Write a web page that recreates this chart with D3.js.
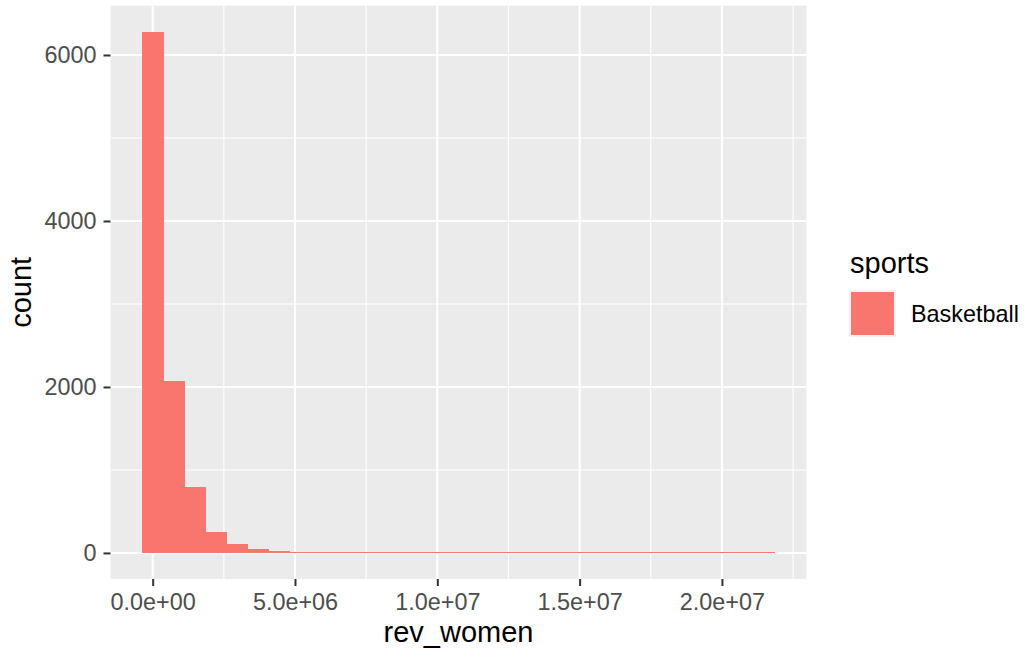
<!DOCTYPE html>
<html>
<head>
<meta charset="utf-8">
<script src="https://cdn.jsdelivr.net/npm/d3@7"></script>
<style>
  html, body { margin: 0; padding: 0; background: #ffffff; }
  svg { display: block; font-family: "Liberation Sans", Arial, Helvetica, sans-serif; }
</style>
</head>
<body>
<svg id="chart" width="1025" height="651"></svg>
<script>
// Histogram of rev_women, 30 bins, one fill group
const binWidth = 741000;            // width of each bin (bins are centred on multiples of it)
const binCounts = [6280, 2072, 795, 253, 108, 48, 24, 9, 5, 3,
                   2, 1, 1, 1, 0, 1, 0, 0, 1, 0,
                   0, 0, 0, 0, 0, 0, 0, 0, 0, 1];
const xTicks = [0, 5e6, 1e7, 1.5e7, 2e7];
const xTickLabels = ["0.0e+00", "5.0e+06", "1.0e+07", "1.5e+07", "2.0e+07"];
const yTicks = [0, 2000, 4000, 6000];
const groups = ["Basketball"];
const groupColors = ["#F8766D"];

const bins = binCounts.map((count, i) => ({
  x0: (i - 0.5) * binWidth,
  x1: (i + 0.5) * binWidth,
  count
}));

const svg = d3.select("#chart");
const panel = { left: 110.5, right: 806.5, top: 5.7, bottom: 579 };

// ggplot-style 5% expansion on both axes
const xMin = d3.min(bins, d => d.x0), xMax = d3.max(bins, d => d.x1);
const xPad = (xMax - xMin) * 0.05;
const x = d3.scaleLinear().domain([xMin - xPad, xMax + xPad]).range([panel.left, panel.right]);
const yTop = d3.max(binCounts);
const y = d3.scaleLinear().domain([-0.05 * yTop, 1.05 * yTop]).range([panel.bottom, panel.top]);

// panel background
svg.append("rect")
  .attr("x", panel.left).attr("y", panel.top)
  .attr("width", panel.right - panel.left).attr("height", panel.bottom - panel.top)
  .attr("fill", "#EBEBEB");

// minor grid
const xMinor = d3.range(2.5e6, x.domain()[1], 5e6);
const yMinor = [1000, 3000, 5000];
const grid = svg.append("g");
grid.selectAll(".xmin").data(xMinor).join("line")
  .attr("x1", d => x(d)).attr("x2", d => x(d))
  .attr("y1", panel.top).attr("y2", panel.bottom)
  .attr("stroke", "#ffffff").attr("stroke-width", 1.1);
grid.selectAll(".ymin").data(yMinor).join("line")
  .attr("x1", panel.left).attr("x2", panel.right)
  .attr("y1", d => y(d)).attr("y2", d => y(d))
  .attr("stroke", "#ffffff").attr("stroke-width", 1.1);
// major grid
grid.selectAll(".xmaj").data(xTicks).join("line")
  .attr("x1", d => x(d)).attr("x2", d => x(d))
  .attr("y1", panel.top).attr("y2", panel.bottom)
  .attr("stroke", "#ffffff").attr("stroke-width", 2.1);
grid.selectAll(".ymaj").data(yTicks).join("line")
  .attr("x1", panel.left).attr("x2", panel.right)
  .attr("y1", d => y(d)).attr("y2", d => y(d))
  .attr("stroke", "#ffffff").attr("stroke-width", 2.1);

// bars (a hairline minimum so near-empty bins stay visible along the baseline)
svg.append("g").attr("shape-rendering", "crispEdges")
  .selectAll("rect").data(bins).join("rect")
  .attr("x", d => x(d.x0))
  .attr("width", d => x(d.x1) - x(d.x0) + 0.5)
  .attr("y", d => Math.min(y(d.count), y(0) - 1.3))
  .attr("height", d => Math.max(y(0) - y(d.count), 1.3))
  .attr("fill", groupColors[0]);

// axes
const tickColor = "#333333", labelColor = "#4D4D4D";
const xAxis = svg.append("g").attr("transform", `translate(0,${panel.bottom})`)
  .call(d3.axisBottom(x).tickValues(xTicks).tickFormat((d, i) => xTickLabels[i])
    .tickSizeInner(7).tickSizeOuter(0).tickPadding(5));
xAxis.select(".domain").remove();
xAxis.selectAll(".tick line").attr("stroke", tickColor).attr("stroke-width", 2);
xAxis.selectAll(".tick text").attr("fill", labelColor)
  .attr("font-size", "23.4px").attr("font-family", null)
  .attr("dy", null).attr("y", 31);

const yAxis = svg.append("g").attr("transform", `translate(${panel.left},0)`)
  .call(d3.axisLeft(y).tickValues(yTicks).tickFormat(d3.format("d"))
    .tickSizeInner(7).tickSizeOuter(0).tickPadding(6));
yAxis.select(".domain").remove();
yAxis.selectAll(".tick line").attr("stroke", tickColor).attr("stroke-width", 2);
yAxis.selectAll(".tick text").attr("fill", labelColor)
  .attr("font-size", "23.4px").attr("font-family", null)
  .attr("dy", "0.34em").attr("x", -14);

// axis titles
svg.append("text")
  .attr("x", (panel.left + panel.right) / 2).attr("y", 642)
  .attr("text-anchor", "middle").attr("font-size", "29px").attr("fill", "#000000")
  .text("rev_women");
svg.append("text")
  .attr("transform", `translate(31,${(panel.top + panel.bottom) / 2}) rotate(-90)`)
  .attr("text-anchor", "middle").attr("font-size", "29px").attr("fill", "#000000")
  .text("count");

// legend
const legend = svg.append("g");
legend.append("text")
  .attr("x", 850).attr("y", 273)
  .attr("font-size", "29px").attr("fill", "#000000")
  .text("sports");
const keys = legend.selectAll(".key").data(groups).join("g")
  .attr("transform", (d, i) => `translate(849,${290 + i * 47})`);
keys.append("rect").attr("width", 47).attr("height", 47).attr("fill", "#F2F2F2");
keys.append("rect").attr("x", 2).attr("y", 2).attr("width", 43).attr("height", 43)
  .attr("fill", (d, i) => groupColors[i]);
keys.append("text")
  .attr("x", 62).attr("y", 23.5).attr("dy", "0.35em")
  .attr("font-size", "23.4px").attr("fill", "#000000")
  .text(d => d);
</script>
</body>
</html>
